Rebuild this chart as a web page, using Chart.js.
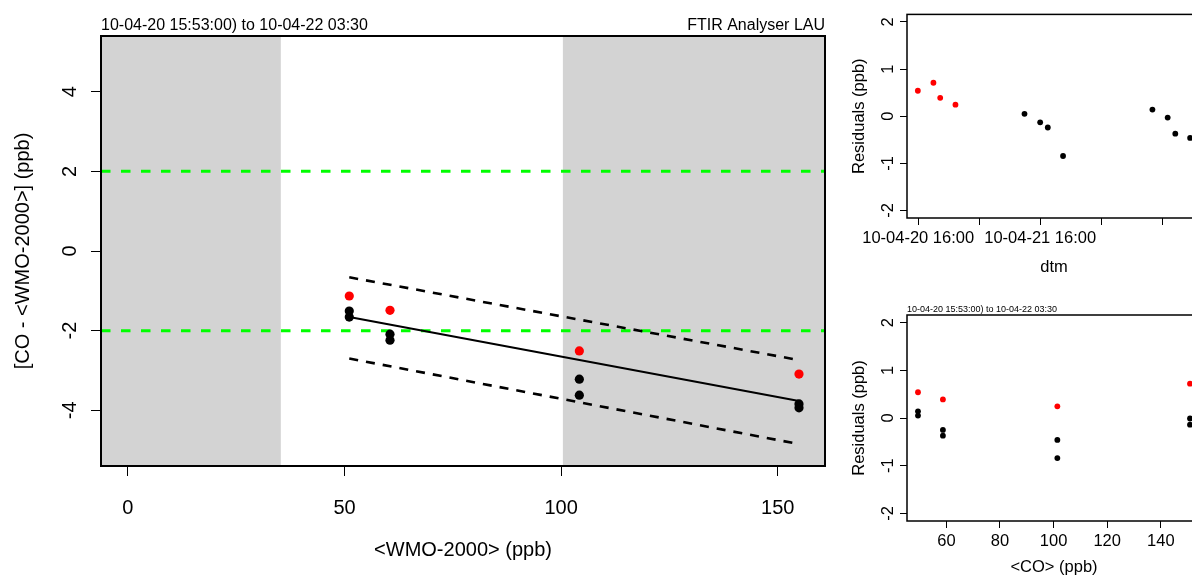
<!DOCTYPE html>
<html>
<head>
<meta charset="utf-8">
<script src="https://cdn.jsdelivr.net/npm/chart.js@4.4.1/dist/chart.umd.min.js"></script>
<style>
  html, body { margin: 0; padding: 0; background: #fff; overflow: hidden; width: 1192px; height: 575px; }
  canvas { position: absolute; }
  #mainFit { left: 0; top: 0; }
  #resTime { left: 840px; top: 0; }
  #resConc { left: 840px; top: 290px; }
</style>
</head>
<body>
<canvas id="mainFit" width="840" height="575"></canvas>
<canvas id="resTime" width="380" height="290"></canvas>
<canvas id="resConc" width="380" height="310"></canvas>
<script>
// --- data ---

const periodText = '10-04-20 15:53:00) to 10-04-22 03:30'
const analyserText = 'FTIR Analyser LAU'

// main panel: [CO - <WMO-2000>] against <WMO-2000>
const redX = [51.1, 60.5, 104.2, 154.9]
const redY = [-1.13, -1.49, -2.51, -3.09]
const blackX = [51.1, 51.1, 60.5, 60.5, 104.2, 104.2, 154.9, 154.9]
const blackY = [-1.51, -1.66, -2.09, -2.24, -3.22, -3.62, -3.84, -3.94]
const fitX = [51.1, 154.9]
const fitY = [-1.66, -3.77]
const upperY = [-0.66, -2.74]
const lowerY = [-2.70, -4.85]
const limitY = [2, -2]
const shadeFrom = [-6.2, 100.4]
const shadeTo = [35.3, 160.9]
const mainXTicks = [0, 50, 100, 150]
const mainYTicks = [-4, -2, 0, 2, 4]

// residuals against time
const resTimes = [
  '2010-04-20T15:56', '2010-04-20T19:00', '2010-04-20T20:20', '2010-04-20T23:20',
  '2010-04-21T12:55', '2010-04-21T16:00', '2010-04-21T17:30', '2010-04-21T20:30',
  '2010-04-22T14:05', '2010-04-22T17:05', '2010-04-22T18:35', '2010-04-22T21:30'
]
const resValues = [0.54, 0.71, 0.39, 0.245, 0.05, -0.13, -0.24, -0.845, 0.14, -0.03, -0.37, -0.46]
const resRedCount = 4
const timeOrigin = '2010-04-20T16:00'
const dtmTickHours = [0, 12, 24, 36, 48]
const dtmTickLabels = ['10-04-20 16:00', '', '10-04-21 16:00', '', '']

// residuals against <CO>
const coRedX = [49.4, 58.7, 101.4, 150.9]
const coRedRes = [0.54, 0.39, 0.245, 0.72]
const coBlackX = [49.4, 49.4, 58.7, 58.7, 101.4, 101.4, 150.9, 150.9]
const coBlackRes = [0.14, 0.05, -0.25, -0.37, -0.46, -0.84, -0.01, -0.14]
const coXTicks = [60, 80, 100, 120, 140]
const resYTicks = [-2, -1, 0, 1, 2]

const FONT = "'Liberation Sans', Arial, Helvetica, sans-serif"
Chart.defaults.font.family = FONT
Chart.defaults.color = '#000'

function toPoints(xs, ys) {
  return xs.map((x, i) => ({ x: x, y: ys[i] }))
}

function hoursSince(t) {
  return (Date.parse(t) - Date.parse(timeOrigin)) / 3600000
}

// --- small plugins: grey bands, box around the plot, texts above the box ---

const shadePlugin = {
  id: 'shade',
  beforeDatasetsDraw(chart, args, opts) {
    const { ctx, chartArea, scales } = chart
    ctx.save()
    ctx.beginPath()
    ctx.rect(chartArea.left, chartArea.top, chartArea.width, chartArea.height)
    ctx.clip()
    ctx.fillStyle = opts.color
    opts.from.forEach((v, i) => {
      const x1 = scales.x.getPixelForValue(v)
      const x2 = scales.x.getPixelForValue(opts.to[i])
      ctx.fillRect(x1, chartArea.top, x2 - x1, chartArea.height)
    })
    ctx.restore()
  }
}

const boxPlugin = {
  id: 'box',
  afterDatasetsDraw(chart, args, opts) {
    const { ctx, chartArea } = chart
    ctx.save()
    ctx.strokeStyle = '#000'
    ctx.lineWidth = opts.lineWidth || 1.5
    ctx.strokeRect(chartArea.left, chartArea.top, chartArea.width, chartArea.height)
    ctx.restore()
  }
}

const headingPlugin = {
  id: 'heading',
  afterDraw(chart, args, opts) {
    const { ctx, chartArea } = chart
    ctx.save()
    ctx.fillStyle = '#000'
    ctx.font = opts.size + 'px ' + FONT
    ctx.textBaseline = 'alphabetic'
    if (opts.left) {
      ctx.textAlign = 'left'
      ctx.fillText(opts.left, chartArea.left, opts.y)
    }
    if (opts.right) {
      ctx.textAlign = 'right'
      ctx.fillText(opts.right, chartArea.right, opts.y)
    }
    ctx.restore()
  }
}

function axisStyle(tickLength) {
  return {
    drawOnChartArea: false,
    drawTicks: true,
    tickLength: tickLength,
    color: '#000',
    lineWidth: 1
  }
}

function fixedTicks(values) {
  return function (scale) {
    scale.ticks = values.map((v) => ({ value: v }))
  }
}

// --- main panel ---

function renderMainFit() {
  const ctx = document.getElementById('mainFit')
  const xMin = -6.2
  const xMax = 160.9

  new Chart(ctx, {
    type: 'scatter',
    data: {
      datasets: [
        {
          data: toPoints(redX, redY),
          backgroundColor: '#ff0000',
          borderWidth: 0,
          pointRadius: 4.6,
          order: 0
        },
        {
          data: toPoints(blackX, blackY),
          backgroundColor: '#000',
          borderWidth: 0,
          pointRadius: 4.6,
          order: 1
        },
        {
          data: toPoints(fitX, fitY),
          showLine: true,
          borderColor: '#000',
          borderWidth: 2,
          pointRadius: 0,
          order: 2
        },
        {
          data: toPoints(fitX, upperY),
          showLine: true,
          borderColor: '#000',
          borderWidth: 2.6,
          borderDash: [9, 8],
          pointRadius: 0,
          order: 3
        },
        {
          data: toPoints(fitX, lowerY),
          showLine: true,
          borderColor: '#000',
          borderWidth: 2.6,
          borderDash: [9, 8],
          pointRadius: 0,
          order: 4
        },
        ...limitY.map((y, i) => ({
          data: toPoints([xMin, xMax], [y, y]),
          showLine: true,
          borderColor: '#00ff00',
          borderWidth: 3,
          borderDash: [9.5, 10.5],
          pointRadius: 0,
          order: 5 + i
        }))
      ]
    },
    options: {
      responsive: false,
      animation: false,
      devicePixelRatio: 1,
      events: [],
      layout: { padding: { left: 0, top: 36, right: 15, bottom: 0 } },
      plugins: {
        legend: { display: false },
        tooltip: { enabled: false },
        shade: { from: shadeFrom, to: shadeTo, color: '#d3d3d3' },
        box: { lineWidth: 2 },
        heading: { left: periodText, right: analyserText, size: 16, y: 30 }
      },
      scales: {
        x: {
          type: 'linear',
          min: xMin,
          max: xMax,
          afterBuildTicks: fixedTicks(mainXTicks),
          afterFit: (s) => { s.height = 109 },
          grid: axisStyle(10),
          border: { display: false },
          ticks: {
            font: { size: 20 },
            color: '#000',
            padding: 20,
            maxRotation: 0,
            callback: (v) => String(v)
          },
          title: {
            display: true,
            text: '<WMO-2000> (ppb)',
            font: { size: 20 },
            color: '#000',
            padding: { top: 0, bottom: 13 }
          }
        },
        y: {
          type: 'linear',
          min: -5.4,
          max: 5.4,
          afterBuildTicks: fixedTicks(mainYTicks),
          afterFit: (s) => { s.width = 101 },
          grid: axisStyle(10),
          border: { display: false },
          ticks: {
            font: { size: 20 },
            color: '#000',
            padding: 12,
            minRotation: 90,
            maxRotation: 90,
            crossAlign: 'center',
            callback: (v) => String(v)
          },
          title: {
            display: true,
            text: '[CO - <WMO-2000>] (ppb)',
            font: { size: 20 },
            color: '#000',
            padding: { top: 11, bottom: 0 }
          }
        }
      }
    },
    plugins: [shadePlugin, boxPlugin, headingPlugin]
  })
}

// --- residual panels ---

function residualYAxis() {
  return {
    type: 'linear',
    min: -2.16,
    max: 2.16,
    afterBuildTicks: fixedTicks(resYTicks),
    afterFit: (s) => { s.width = 67 },
    grid: axisStyle(7),
    border: { display: false },
    ticks: {
      font: { size: 16.5 },
      color: '#000',
      padding: 4.5,
      minRotation: 90,
      maxRotation: 90,
      crossAlign: 'center',
      callback: (v) => String(v)
    },
    title: {
      display: true,
      text: 'Residuals (ppb)',
      font: { size: 16.5 },
      color: '#000',
      padding: { top: 10, bottom: 0 }
    }
  }
}

function residualPoints(points, color) {
  return {
    data: points,
    backgroundColor: color,
    borderWidth: 0,
    pointRadius: 2.9
  }
}

function renderResidualsByTime() {
  const ctx = document.getElementById('resTime')
  const hours = resTimes.map(hoursSince)
  const redPts = toPoints(hours.slice(0, resRedCount), resValues.slice(0, resRedCount))
  const blackPts = toPoints(hours.slice(resRedCount), resValues.slice(resRedCount))

  new Chart(ctx, {
    type: 'scatter',
    data: {
      datasets: [residualPoints(redPts, '#ff0000'), residualPoints(blackPts, '#000')]
    },
    options: {
      responsive: false,
      animation: false,
      devicePixelRatio: 1,
      events: [],
      layout: { padding: { left: 0, top: 13, right: 19, bottom: 0 } },
      plugins: {
        legend: { display: false },
        tooltip: { enabled: false },
        box: { lineWidth: 1.5 }
      },
      scales: {
        x: {
          type: 'linear',
          min: -2.2,
          max: 55.64,
          afterBuildTicks: fixedTicks(dtmTickHours),
          afterFit: (s) => { s.height = 72 },
          grid: axisStyle(7),
          border: { display: false },
          ticks: {
            font: { size: 16.5 },
            color: '#000',
            padding: 4,
            maxRotation: 0,
            autoSkip: false,
            callback: (v) => dtmTickLabels[dtmTickHours.indexOf(v)]
          },
          title: {
            display: true,
            text: 'dtm',
            font: { size: 16.5 },
            color: '#000',
            padding: { top: 0, bottom: 13 }
          }
        },
        y: residualYAxis()
      }
    },
    plugins: [boxPlugin]
  })
}

function renderResidualsByConc() {
  const ctx = document.getElementById('resConc')

  new Chart(ctx, {
    type: 'scatter',
    data: {
      datasets: [
        residualPoints(toPoints(coRedX, coRedRes), '#ff0000'),
        residualPoints(toPoints(coBlackX, coBlackRes), '#000')
      ]
    },
    options: {
      responsive: false,
      animation: false,
      devicePixelRatio: 1,
      events: [],
      layout: { padding: { left: 0, top: 25, right: 19, bottom: 0 } },
      plugins: {
        legend: { display: false },
        tooltip: { enabled: false },
        box: { lineWidth: 1.5 },
        heading: { left: periodText, size: 9, y: 22 }
      },
      scales: {
        x: {
          type: 'linear',
          min: 45.3,
          max: 155,
          afterBuildTicks: fixedTicks(coXTicks),
          afterFit: (s) => { s.height = 79 },
          grid: axisStyle(7),
          border: { display: false },
          ticks: {
            font: { size: 16.5 },
            color: '#000',
            padding: 3.5,
            maxRotation: 0,
            autoSkip: false,
            callback: (v) => String(v)
          },
          title: {
            display: true,
            text: '<CO> (ppb)',
            font: { size: 16.5 },
            color: '#000',
            padding: { top: 0, bottom: 23 }
          }
        },
        y: residualYAxis()
      }
    },
    plugins: [boxPlugin, headingPlugin]
  })
}

renderMainFit()
renderResidualsByTime()
renderResidualsByConc()
</script>
</body>
</html>
